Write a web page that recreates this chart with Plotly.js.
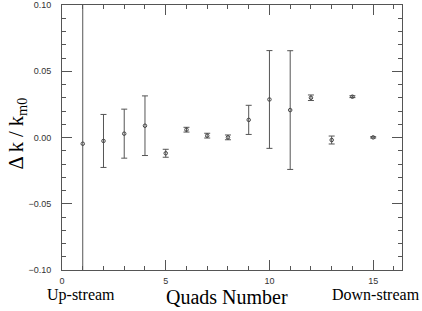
<!DOCTYPE html>
<html>
<head>
<meta charset="utf-8">
<script src="https://cdn.plot.ly/plotly-3.0.1.min.js"></script>
<style>html,body{margin:0;padding:0;background:#fff;}#chart{width:422px;height:311px;}</style>
</head>
<body>
<div id="chart"></div>
<script>
const quads = [1, 2, 3, 4, 5, 6, 7, 8, 9, 10, 11, 12, 13, 14, 15];
const deltaK = [-0.0047, -0.0026, 0.0029, 0.0089, -0.0119, 0.0059, 0.0014, 0.0001, 0.0133, 0.0287, 0.0207, 0.0300, -0.0019, 0.0308, 0.0001];
const errK = [0.2, 0.020, 0.0185, 0.0225, 0.003, 0.0018, 0.0018, 0.0018, 0.011, 0.0369, 0.0448, 0.0021, 0.003, 0.0007, 0.0005];
const xTickVals = [0, 5, 10, 15];
const yTickVals = [-0.10, -0.05, 0.00, 0.05, 0.10];
const yTickText = ['\u22120.10', '\u22120.05', '0.00', '0.05', '0.10'];

const axisColor = '#555';
const trace = {
  x: quads, y: deltaK, type: 'scatter', mode: 'markers',
  marker: {symbol: 'circle-open', size: 3.5, color: '#444', line: {width: 1, color: '#444'}},
  error_y: {type: 'data', array: errK, visible: true, color: '#555', thickness: 1, width: 3},
  hoverinfo: 'none'
};
const layout = {
  width: 422, height: 311,
  margin: {l: 62, r: 20, t: 5, b: 41},
  paper_bgcolor: '#fff', plot_bgcolor: '#fff',
  showlegend: false,
  font: {family: 'Liberation Sans, Arial, sans-serif', color: '#333'},
  xaxis: {
    range: [0, 16.39], showgrid: false, zeroline: false,
    showline: true, linecolor: axisColor, linewidth: 1, mirror: 'allticks',
    ticks: 'inside', ticklen: 10, tickcolor: axisColor, tickwidth: 1,
    tickvals: xTickVals, ticktext: xTickVals.map(String),
    tickfont: {size: 9, color: '#333'}, ticklabelstandoff: 2,
    minor: {dtick: 1, tick0: 0, ticks: 'inside', ticklen: 4, tickcolor: axisColor, tickwidth: 1, showgrid: false}
  },
  yaxis: {
    range: [-0.10, 0.10], showgrid: false, zeroline: false,
    showline: true, linecolor: axisColor, linewidth: 1, mirror: 'allticks',
    ticks: 'inside', ticklen: 10, tickcolor: axisColor, tickwidth: 1,
    tickvals: yTickVals, ticktext: yTickText,
    tickfont: {size: 9, color: '#333'}, ticklabelstandoff: 8,
    minor: {dtick: 0.01, tick0: 0, ticks: 'inside', ticklen: 4, tickcolor: axisColor, tickwidth: 1, showgrid: false}
  },
  annotations: [
    {text: 'Quads Number', xref: 'paper', yref: 'paper', x: 0.485, y: 0, yshift: -27, xanchor: 'center', yanchor: 'middle', showarrow: false,
     font: {family: 'Liberation Serif, Times New Roman, serif', size: 20, color: '#000'}},
    {text: 'Up-stream', xref: 'paper', yref: 'paper', x: 0, xshift: -17, y: 0, yshift: -25, xanchor: 'left', yanchor: 'middle', showarrow: false,
     font: {family: 'Liberation Serif, Times New Roman, serif', size: 16, color: '#000'}},
    {text: 'Down-stream', xref: 'paper', yref: 'paper', x: 1, xshift: 20, y: 0, yshift: -24, xanchor: 'right', yanchor: 'middle', showarrow: false,
     font: {family: 'Liberation Serif, Times New Roman, serif', size: 16, color: '#000'}},
    {text: '\u0394 k / k<sub>m0</sub>', xref: 'paper', yref: 'paper', x: 0, xshift: -45, y: 0.5, yshift: 4, xanchor: 'center', yanchor: 'middle', textangle: -90, showarrow: false,
     font: {family: 'Liberation Serif, Times New Roman, serif', size: 20.5, color: '#000'}}
  ]
};
Plotly.newPlot('chart', [trace], layout, {displayModeBar: false, staticPlot: true});
</script>
</body>
</html>
